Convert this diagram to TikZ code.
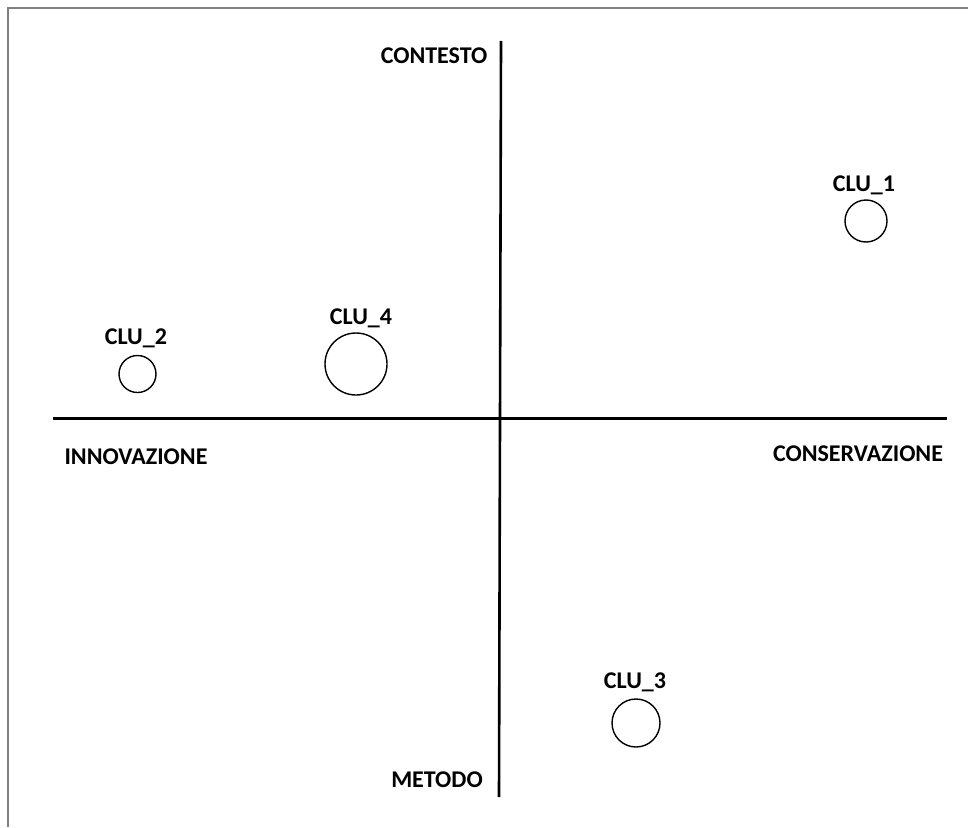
\documentclass[tikz,border=0pt]{standalone}
\usepackage{fontspec}
\setmainfont{Carlito}
\begin{document}
\begin{tikzpicture}[x=1pt,y=-1pt,
  lbl/.style={font=\fontsize{24}{26}\selectfont\bfseries, inner sep=0pt, anchor=center},
  clu/.style={draw=black, line width=1.4pt, circle, inner sep=0pt},
  axis/.style={draw=black, line width=2.6pt},
  frame/.style={draw=gray, line width=2pt}]
\useasboundingbox (0,0) rectangle (968,827);
% frame
\coordinate (f1) at (7.5,827);
\coordinate (f2) at (7.5,7.5);
\coordinate (f3) at (968,7.5);
\draw[frame] (f1) -- (f2) -- (f3);
% axes
\coordinate (vt) at (501,41);
\coordinate (vb) at (499,797);
\coordinate (hl) at (53,418.5);
\coordinate (hr) at (947,418.5);
\draw[axis] (vt) -- (vb);
\draw[axis] (hl) -- (hr);
% axis labels
\node[lbl] (contesto) at (434,56) {CONTESTO};
\node[lbl] (metodo) at (437,780) {METODO};
\node[lbl] (innov) at (136,457) {INNOVAZIONE};
\node[lbl] (conserv) at (858,454) {CONSERVAZIONE};
% clusters
\node[clu, minimum size=42pt] (c1) at (866,221) {};
\node[lbl] (l1) at (864,185) {CLU\_1};
\node[clu, minimum size=37pt] (c2) at (137.5,374) {};
\node[lbl] (l2) at (136,338) {CLU\_2};
\node[clu, minimum size=62pt] (c4) at (356,364) {};
\node[lbl] (l4) at (361,318) {CLU\_4};
\node[clu, minimum size=48pt] (c3) at (636,723) {};
\node[lbl] (l3) at (635,682) {CLU\_3};
\end{tikzpicture}
\end{document}
